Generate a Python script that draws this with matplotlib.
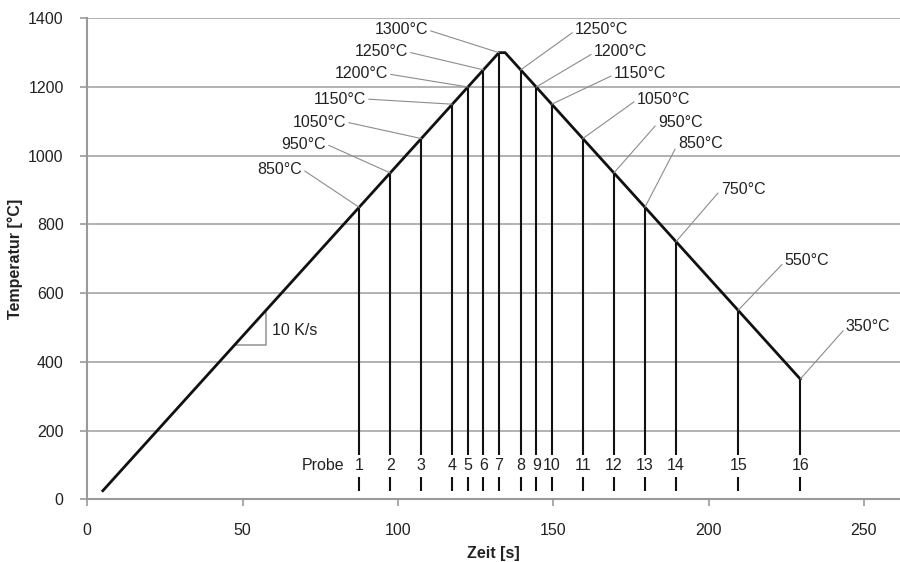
import matplotlib
matplotlib.use('Agg')
import matplotlib.pyplot as plt
import numpy as np

# ---- data ----
time_s = [5, 132.5, 134.5, 229.5]
temp_c = [25, 1300, 1300, 350]
probe_nr = [str(i) for i in range(1, 17)]
probe_time = [87.5, 97.5, 107.5, 117.5, 122.5, 127.5, 132.5, 139.5,
              144.5, 149.5, 159.5, 169.5, 179.5, 189.5, 209.5, 229.5]
probe_temp = [850, 950, 1050, 1150, 1200, 1250, 1300, 1250,
              1200, 1150, 1050, 950, 850, 750, 550, 350]
x_ticks = [0, 50, 100, 150, 200, 250]
y_ticks = [0, 200, 400, 600, 800, 1000, 1200, 1400]
rate_label = "10 K/s"
rate = 10

# ---- layout (label placement) ----
label_xy = [(69.1, 961), (76.8, 1034), (83.3, 1098), (89.7, 1165), (96.8, 1238),
            (103.2, 1302), (109.6, 1366), (157.0, 1366), (163.1, 1302), (169.5, 1238),
            (176.9, 1165), (183.7, 1098), (190.1, 1037), (203.9, 903), (224.5, 694),
            (244.2, 502)]

plt.rcParams['font.family'] = ['Liberation Sans', 'DejaVu Sans']
txt_color = '#222222'
grid_color = '#ababab'
fs = 11.5

fig = plt.figure(figsize=(9, 5.62), dpi=100)
ax = fig.add_axes([87.3 / 900, 62.7 / 562, (900 - 87.3) / 900, 481 / 562])
ax.set_xlim(0, 261.6)
ax.set_ylim(0, 1400)

for y in y_ticks[1:]:
    ax.axhline(y, color=grid_color, lw=1.3, zorder=0)

for s in ['top', 'right']:
    ax.spines[s].set_visible(False)
for s in ['left', 'bottom']:
    ax.spines[s].set_color('#9a9a9a')
    ax.spines[s].set_linewidth(1.5)

ax.set_xticks(x_ticks)
ax.set_yticks(y_ticks)
ax.tick_params(axis='both', colors='#9a9a9a', labelcolor=txt_color, labelsize=fs,
               length=5, width=1.2, direction='out', pad=12)

ax.set_xlabel('Zeit [s]', fontsize=fs, fontweight='bold', color=txt_color, labelpad=6)
ax.set_ylabel('Temperatur [°C]', fontsize=fs, fontweight='bold', color=txt_color, labelpad=4)

# main curve
ax.plot(time_s, temp_c, color='#111111', lw=2, zorder=3, solid_joinstyle='miter')

# probe vertical lines
ax.vlines(probe_time, 130, probe_temp, color='#111111', lw=1.5, zorder=2)
ax.vlines(probe_time, 25, 66, color='#111111', lw=1.5, zorder=2)
for t, n in zip(probe_time, probe_nr):
    ax.text(t, 98, n, ha='center', va='center', fontsize=fs, color=txt_color)
ax.text(82.9, 98, 'Probe', ha='right', va='center', fontsize=fs, color=txt_color)

# temperature labels with leader lines
for i, (t, T) in enumerate(zip(probe_time, probe_temp)):
    lx, ly = label_xy[i]
    left = lx < t
    ax.annotate(f'{T}°C', xy=(t, T), xytext=(lx, ly),
                ha='right' if left else 'left', va='center',
                fontsize=fs, color=txt_color,
                arrowprops=dict(arrowstyle='-', color='#8c8c8c', lw=0.8,
                                shrinkA=0, shrinkB=0,
                                relpos=(1, 0.5) if left else (0, 0.45)))

# slope triangle
t0 = 47.5
T0 = np.interp(t0, time_s, temp_c)
ax.plot([t0, t0 + rate, t0 + rate], [T0, T0, T0 + rate * rate],
        color='#9a9a9a', lw=1.2, zorder=2)
ax.text(t0 + rate + 1.8, T0 + 40, rate_label, ha='left', va='center',
        fontsize=fs, color=txt_color)

fig.savefig('out.png', dpi=100)
